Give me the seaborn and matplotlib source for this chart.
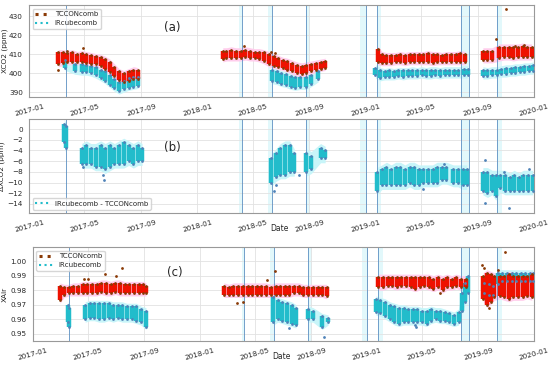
import matplotlib
matplotlib.use("Agg")
import matplotlib.pyplot as plt
import matplotlib.dates as mdates
from matplotlib.lines import Line2D
import pandas as pd
import seaborn as sns

# (date, low, high) of each ~10-day cluster of soundings
a_tccon = [
    ("2017-03-05", 405, 411), ("2017-03-15", 405.5, 411), ("2017-03-25", 406, 410.5),
    ("2017-04-05", 406, 411), ("2017-04-15", 406, 410), ("2017-04-25", 406, 410.5),
    ("2017-05-05", 405.5, 410), ("2017-05-15", 405, 409.5), ("2017-05-25", 405, 409),
    ("2017-06-05", 404, 408.5), ("2017-06-15", 402.5, 407.5), ("2017-06-25", 400.5, 406),
    ("2017-07-05", 398.5, 403.5), ("2017-07-15", 396.5, 401), ("2017-07-25", 395.5, 400),
    ("2017-08-05", 396, 401), ("2017-08-15", 397, 402), ("2017-08-25", 397, 401.5),
    ("2018-02-25", 407.5, 412), ("2018-03-05", 408, 412), ("2018-03-15", 408, 412.5),
    ("2018-03-25", 408, 412), ("2018-04-05", 408, 412), ("2018-04-15", 408.5, 412.5),
    ("2018-04-25", 408, 412), ("2018-05-05", 408, 411.5), ("2018-05-15", 407.5, 411.5),
    ("2018-05-25", 406.5, 411), ("2018-06-05", 405, 410), ("2018-06-15", 404, 409),
    ("2018-06-25", 403.5, 408), ("2018-07-05", 403, 407), ("2018-07-15", 402, 406.5),
    ("2018-07-25", 401, 405.5), ("2018-08-05", 400, 404.5), ("2018-08-15", 399.5, 404),
    ("2018-08-25", 400, 404.5), ("2018-09-05", 401, 405), ("2018-09-15", 402, 405.5),
    ("2018-09-25", 402.5, 406), ("2018-10-05", 403, 406.5),
    ("2019-01-27", 406, 413), ("2019-02-05", 405.5, 410), ("2019-02-15", 405.5, 409.5),
    ("2019-02-25", 405.5, 409.5), ("2019-03-07", 406, 409.5), ("2019-03-17", 406, 410),
    ("2019-03-27", 405.5, 409.5), ("2019-04-06", 406, 410), ("2019-04-16", 406, 410),
    ("2019-04-26", 406, 410), ("2019-05-06", 406, 410), ("2019-05-16", 406, 410.5),
    ("2019-05-26", 405.5, 410), ("2019-06-05", 406, 410), ("2019-06-15", 406, 409.5),
    ("2019-06-25", 406, 410), ("2019-07-05", 406, 410), ("2019-07-15", 406, 410),
    ("2019-07-25", 406, 410.5), ("2019-08-05", 406, 410),
    ("2019-09-12", 407, 412), ("2019-09-22", 407, 412), ("2019-10-02", 407, 412),
    ("2019-10-18", 408, 414), ("2019-10-28", 408.5, 414), ("2019-11-07", 408.5, 414),
    ("2019-11-17", 408, 414), ("2019-11-27", 408.5, 414), ("2019-12-07", 408.5, 414.5),
    ("2019-12-17", 408.5, 414), ("2019-12-27", 408.5, 414),
]
a_tccon_out = [
    ("2017-03-05", 401.5), ("2017-03-25", 412), ("2017-04-28", 413.5), ("2018-04-12", 414.5),
    ("2018-06-10", 411.5), ("2018-06-18", 410.5), ("2019-10-10", 418), ("2019-11-02", 434),
    ("2019-11-20", 414.5), ("2019-12-10", 415),
]
a_ircube = [
    ("2017-03-20", 403, 407), ("2017-04-10", 401, 405), ("2017-04-25", 400.5, 405),
    ("2017-05-05", 400.5, 404.5), ("2017-05-15", 400, 404), ("2017-05-25", 399, 403.5),
    ("2017-06-05", 397.5, 402), ("2017-06-15", 396, 401), ("2017-06-25", 394, 399),
    ("2017-07-05", 392, 397), ("2017-07-15", 390.5, 395.5), ("2017-07-25", 391.5, 396),
    ("2017-08-05", 392.5, 397.5), ("2017-08-15", 393, 398), ("2017-08-25", 393.5, 398),
    ("2018-06-12", 396, 402), ("2018-06-22", 395.5, 401), ("2018-07-02", 394.5, 400),
    ("2018-07-12", 394, 399.5), ("2018-07-22", 393, 398.5), ("2018-08-01", 392.5, 398),
    ("2018-08-12", 393, 398), ("2018-08-25", 393, 398), ("2018-09-05", 394.5, 399),
    ("2018-09-20", 397, 401),
    ("2019-01-22", 399, 403), ("2019-02-01", 397.5, 401.5), ("2019-02-11", 398, 401),
    ("2019-02-21", 398, 401.5), ("2019-03-03", 398, 401), ("2019-03-13", 398.5, 401.5),
    ("2019-03-23", 398, 401.5), ("2019-04-02", 398.5, 401.5), ("2019-04-12", 398.5, 402),
    ("2019-04-22", 398.5, 401.5), ("2019-05-02", 399, 402), ("2019-05-12", 398.5, 401.5),
    ("2019-05-22", 398.5, 402), ("2019-06-01", 399, 402), ("2019-06-11", 398.5, 401.5),
    ("2019-06-21", 399, 402), ("2019-07-01", 399, 402), ("2019-07-11", 399, 402),
    ("2019-07-21", 399, 402), ("2019-08-01", 399, 402.5), ("2019-08-10", 399, 402.5),
    ("2019-09-12", 398.5, 402), ("2019-09-22", 398.5, 401.5), ("2019-10-02", 399, 402),
    ("2019-10-12", 399, 402), ("2019-10-22", 399.5, 402.5), ("2019-11-01", 399.5, 403),
    ("2019-11-11", 400, 403), ("2019-11-21", 400, 403.5), ("2019-12-01", 400.5, 403.5),
    ("2019-12-11", 400.5, 404), ("2019-12-21", 401, 404), ("2019-12-30", 401, 404.5),
]

b_diff = [
    ("2017-03-18", -2.5, 1), ("2017-03-21", -3.5, 0.5),
    ("2017-04-25", -6.5, -3.5), ("2017-05-05", -6.5, -3), ("2017-05-15", -6.5, -3.5),
    ("2017-05-25", -7, -3.5), ("2017-06-05", -7, -3), ("2017-06-15", -7.5, -3.5),
    ("2017-06-25", -7, -3), ("2017-07-05", -6.5, -3.5), ("2017-07-15", -6.5, -3),
    ("2017-07-25", -6.5, -2.5), ("2017-08-05", -6, -3), ("2017-08-15", -6.5, -3.5),
    ("2017-08-25", -6, -3), ("2017-09-03", -6, -3.5),
    ("2018-06-10", -10, -5.5), ("2018-06-20", -9, -4.5), ("2018-06-30", -8.5, -3.5),
    ("2018-07-10", -8.5, -3), ("2018-07-20", -8, -3), ("2018-07-30", -8, -4.5),
    ("2018-08-25", -8, -4.5), ("2018-09-05", -7.5, -5), ("2018-09-25", -5.5, -3.5),
    ("2018-10-05", -5.5, -4),
    ("2019-01-25", -11.5, -8), ("2019-02-05", -10.5, -7.5), ("2019-02-15", -10.5, -7),
    ("2019-02-25", -10.5, -7.5), ("2019-03-07", -10.5, -7), ("2019-03-17", -10.5, -7),
    ("2019-03-27", -10.5, -7.5), ("2019-04-06", -10, -7), ("2019-04-16", -10.5, -7),
    ("2019-04-26", -10.5, -7.5), ("2019-05-06", -10, -7.5), ("2019-05-16", -10, -7.5),
    ("2019-05-26", -10, -7.5), ("2019-06-05", -10, -7), ("2019-06-15", -9.5, -7),
    ("2019-06-25", -9.5, -7), ("2019-07-10", -10, -7.5), ("2019-07-20", -10, -7.5),
    ("2019-07-30", -10.5, -7.5), ("2019-08-08", -10.5, -7.5),
    ("2019-09-12", -11.5, -8), ("2019-09-22", -12, -8), ("2019-10-02", -11.5, -8.5),
    ("2019-10-10", -12.5, -8.5), ("2019-10-20", -11, -8.5), ("2019-10-30", -11.5, -8.5),
    ("2019-11-09", -11.5, -9), ("2019-11-19", -11.5, -8.5), ("2019-11-29", -11.5, -9),
    ("2019-12-09", -11.5, -8.5), ("2019-12-19", -11.5, -8.5), ("2019-12-29", -11.5, -8.5),
]
b_diff_out = [
    ("2017-04-28", -7), ("2017-06-10", -8.5), ("2017-06-12", -9.6), ("2018-06-15", -11.5),
    ("2018-06-20", -10.5), ("2018-08-10", -8.5), ("2019-05-05", -11.3), ("2019-06-20", -6.5),
    ("2019-09-16", -5.8), ("2019-09-16", -13.8), ("2019-10-28", -8), ("2019-11-08", -14.8),
    ("2019-12-22", -7.5),
]

c_tccon = [
    ("2017-03-01", 0.973, 0.983), ("2017-03-10", 0.977, 0.982), ("2017-03-20", 0.978, 0.982),
    ("2017-03-30", 0.978, 0.983), ("2017-04-10", 0.978, 0.983), ("2017-04-20", 0.978, 0.984),
    ("2017-04-30", 0.978, 0.984), ("2017-05-10", 0.978, 0.984), ("2017-05-20", 0.978, 0.984),
    ("2017-05-30", 0.979, 0.985), ("2017-06-10", 0.978, 0.985), ("2017-06-20", 0.978, 0.984),
    ("2017-06-30", 0.979, 0.985), ("2017-07-10", 0.978, 0.985), ("2017-07-20", 0.978, 0.984),
    ("2017-07-30", 0.978, 0.984), ("2017-08-10", 0.978, 0.984), ("2017-08-20", 0.978, 0.984),
    ("2017-08-30", 0.978, 0.984), ("2017-09-05", 0.978, 0.983),
    ("2018-02-22", 0.977, 0.983), ("2018-03-05", 0.977, 0.982), ("2018-03-15", 0.977, 0.983),
    ("2018-03-25", 0.977, 0.983), ("2018-04-05", 0.977, 0.983), ("2018-04-15", 0.977, 0.983),
    ("2018-04-25", 0.977, 0.983), ("2018-05-05", 0.977, 0.983), ("2018-05-15", 0.977, 0.983),
    ("2018-05-25", 0.977, 0.983), ("2018-06-05", 0.977, 0.982), ("2018-06-15", 0.977, 0.983),
    ("2018-06-25", 0.977, 0.983), ("2018-07-05", 0.977, 0.983), ("2018-07-15", 0.977, 0.983),
    ("2018-07-25", 0.978, 0.983), ("2018-08-05", 0.978, 0.983), ("2018-08-15", 0.977, 0.982),
    ("2018-08-25", 0.977, 0.982), ("2018-09-05", 0.977, 0.982), ("2018-09-15", 0.977, 0.982),
    ("2018-09-25", 0.977, 0.982), ("2018-10-05", 0.976, 0.982),
    ("2019-01-25", 0.982, 0.989), ("2019-02-05", 0.982, 0.989), ("2019-02-15", 0.983, 0.989),
    ("2019-02-25", 0.983, 0.989), ("2019-03-07", 0.982, 0.989), ("2019-03-17", 0.983, 0.989),
    ("2019-03-27", 0.983, 0.989), ("2019-04-06", 0.982, 0.989), ("2019-04-16", 0.981, 0.989),
    ("2019-04-26", 0.982, 0.989), ("2019-05-06", 0.983, 0.989), ("2019-05-16", 0.982, 0.989),
    ("2019-05-26", 0.981, 0.988), ("2019-06-05", 0.982, 0.989), ("2019-06-15", 0.980, 0.988),
    ("2019-06-25", 0.982, 0.989), ("2019-07-05", 0.982, 0.988), ("2019-07-15", 0.983, 0.989),
    ("2019-07-25", 0.982, 0.988), ("2019-08-05", 0.982, 0.988),
    ("2019-09-12", 0.974, 0.990), ("2019-09-20", 0.970, 0.992), ("2019-09-28", 0.972, 0.991),
    ("2019-10-06", 0.975, 0.990), ("2019-10-18", 0.976, 0.990), ("2019-10-28", 0.975, 0.990),
    ("2019-11-07", 0.974, 0.991), ("2019-11-17", 0.975, 0.990), ("2019-11-27", 0.975, 0.990),
    ("2019-12-07", 0.975, 0.990), ("2019-12-17", 0.976, 0.990), ("2019-12-27", 0.975, 0.991),
]
c_tccon_out = [
    ("2017-04-22", 0.988), ("2017-05-02", 0.988), ("2017-06-08", 0.991), ("2017-07-01", 0.990),
    ("2017-07-15", 0.995), ("2018-03-22", 0.971), ("2018-04-05", 0.972), ("2018-05-28", 0.987),
    ("2018-06-14", 0.993), ("2019-06-10", 0.978), ("2019-09-10", 0.997), ("2019-09-14", 0.995),
    ("2019-09-25", 0.968), ("2019-10-15", 0.994), ("2019-10-29", 1.006),
]
c_ircube = [
    ("2017-03-18", 0.958, 0.970), ("2017-03-21", 0.955, 0.968),
    ("2017-04-25", 0.960, 0.970), ("2017-05-05", 0.961, 0.971), ("2017-05-15", 0.961, 0.971),
    ("2017-05-25", 0.960, 0.971), ("2017-06-05", 0.960, 0.971), ("2017-06-15", 0.961, 0.971),
    ("2017-06-25", 0.960, 0.970), ("2017-07-05", 0.961, 0.970), ("2017-07-15", 0.960, 0.970),
    ("2017-07-25", 0.960, 0.969), ("2017-08-05", 0.960, 0.969), ("2017-08-15", 0.959, 0.969),
    ("2017-08-25", 0.958, 0.967), ("2017-09-05", 0.955, 0.966),
    ("2018-06-10", 0.958, 0.975), ("2018-06-20", 0.960, 0.973), ("2018-06-30", 0.959, 0.972),
    ("2018-07-10", 0.958, 0.971), ("2018-07-20", 0.957, 0.970), ("2018-07-30", 0.956, 0.968),
    ("2018-08-25", 0.960, 0.967), ("2018-09-05", 0.960, 0.966), ("2018-09-25", 0.955, 0.962),
    ("2018-10-08", 0.958, 0.961),
    ("2019-01-20", 0.965, 0.974), ("2019-01-30", 0.964, 0.973), ("2019-02-10", 0.962, 0.972),
    ("2019-02-20", 0.960, 0.970), ("2019-03-02", 0.958, 0.969), ("2019-03-12", 0.957, 0.968),
    ("2019-03-22", 0.958, 0.968), ("2019-04-01", 0.958, 0.967), ("2019-04-11", 0.958, 0.967),
    ("2019-04-21", 0.958, 0.967), ("2019-05-01", 0.958, 0.966), ("2019-05-11", 0.957, 0.966),
    ("2019-05-21", 0.959, 0.967), ("2019-05-31", 0.960, 0.966), ("2019-06-10", 0.959, 0.966),
    ("2019-06-20", 0.959, 0.965), ("2019-06-30", 0.958, 0.964), ("2019-07-10", 0.957, 0.963),
    ("2019-07-20", 0.958, 0.965), ("2019-07-27", 0.966, 0.978), ("2019-08-03", 0.972, 0.985),
    ("2019-08-10", 0.978, 0.990),
    ("2019-09-14", 0.978, 0.985), ("2019-09-24", 0.977, 0.984), ("2019-10-04", 0.977, 0.983),
    ("2019-10-14", 0.984, 0.992), ("2019-10-24", 0.986, 0.992), ("2019-11-03", 0.986, 0.992),
    ("2019-11-13", 0.986, 0.992), ("2019-11-23", 0.986, 0.992), ("2019-12-03", 0.986, 0.992),
    ("2019-12-13", 0.986, 0.992), ("2019-12-23", 0.986, 0.992), ("2019-12-30", 0.986, 0.992),
]
c_ircube_out = [("2018-07-15", 0.954), ("2018-09-28", 0.948), ("2019-04-15", 0.956), ("2019-04-18", 0.955)]

# instrument events (vertical lines) and shaded periods next to them
event_dates = ["2017-03-21", "2018-04-08", "2018-06-11", "2018-08-25", "2019-01-01",
               "2019-01-26", "2019-07-26", "2019-08-12", "2019-10-12"]
shaded_periods = [("2018-04-02", "2018-04-08"), ("2018-06-02", "2018-06-11"),
                  ("2018-08-25", "2018-09-02"), ("2018-12-20", "2019-01-01"),
                  ("2019-01-26", "2019-02-04"), ("2019-07-26", "2019-08-12"),
                  ("2019-10-12", "2019-10-24")]

RED, BROWN, PINK = "#ee1100", "#8a3a06", "#ffcdec"
CYAN, BLUE, LCYAN = "#22bccb", "#4f83b8", "#c8f5f9"


def to_frame(rows):
    df = pd.DataFrame(rows, columns=["date", "lo", "hi"])
    df["date"] = pd.to_datetime(df["date"])
    df["seg"] = (df["date"].diff().dt.days > 25).cumsum()
    return df


def draw_series(ax, rows, outliers, line_color, dot_color, halo_color, pad, lw=3.2):
    df = to_frame(rows)
    for _, seg in df.groupby("seg"):
        ax.fill_between(seg["date"], seg["lo"] - pad, seg["hi"] + pad, color=halo_color,
                        lw=0, zorder=1)
    ax.vlines(df["date"], df["lo"], df["hi"], colors=line_color, lw=lw, zorder=3)
    ends = pd.concat([df[["date", "lo"]].rename(columns={"lo": "v"}),
                      df[["date", "hi"]].rename(columns={"hi": "v"})])
    if outliers:
        out = pd.DataFrame(outliers, columns=["date", "v"])
        out["date"] = pd.to_datetime(out["date"])
        ends = pd.concat([ends, out])
    sns.scatterplot(data=ends, x="date", y="v", ax=ax, color=dot_color, s=4,
                    linewidth=0, zorder=4, legend=False)


def decorate(ax, ylabel, tag, tag_y, label_x, xlabel=True):
    for d in event_dates:
        ax.axvline(pd.Timestamp(d), color="#5b8fc2", lw=0.6, zorder=2)
    for s, e in shaded_periods:
        ax.axvspan(pd.Timestamp(s), pd.Timestamp(e), color="#e2f8fb", lw=0, zorder=0)
    ax.set_xlim(pd.Timestamp("2017-01-01"), pd.Timestamp("2020-01-01"))
    ax.xaxis.set_major_locator(mdates.MonthLocator(bymonth=[1, 5, 9]))
    ax.xaxis.set_major_formatter(mdates.DateFormatter("%Y-%m"))
    ax.tick_params(axis="x", labelsize=5.2, rotation=15, pad=1)
    ax.tick_params(axis="y", labelsize=5.2, pad=1)
    ax.set_ylabel(ylabel, fontsize=5.3)
    ax.yaxis.set_label_coords(label_x, 0.5)
    if xlabel:
        ax.set_xlabel("Date", fontsize=5.5, ha="left")
        ax.xaxis.set_label_coords(0.477, -0.12)
    else:
        ax.set_xlabel("")
    ax.text(0.283, tag_y, tag, transform=ax.transAxes, fontsize=8.5, ha="center", va="center")
    for sp in ax.spines.values():
        sp.set_color("#999999")
        sp.set_linewidth(0.8)
    ax.grid(color="#e2e2e2", lw=0.6)


sns.set_style("whitegrid")
fig = plt.figure(figsize=(5.5, 3.66), dpi=100)
ax_a = fig.add_axes([0.053, 0.735, 0.918, 0.251])
ax_b = fig.add_axes([0.053, 0.418, 0.918, 0.257])
ax_c = fig.add_axes([0.060, 0.068, 0.911, 0.257])

tccon_handle = Line2D([], [], color=BROWN, ls=":", lw=2.2)
ircube_handle = Line2D([], [], color=CYAN, ls=":", lw=1.5)

# (a) XCO2
draw_series(ax_a, a_ircube, [], CYAN, BLUE, LCYAN, 1.5)
draw_series(ax_a, a_tccon, a_tccon_out, RED, BROWN, PINK, 1.5)
ax_a.set_ylim(387.5, 436)
ax_a.set_yticks([390, 400, 410, 420, 430])
decorate(ax_a, "XCO2 (ppm)", "(a)", 0.76, -0.042, xlabel=False)
ax_a.legend([tccon_handle, ircube_handle], ["TCCONcomb", "IRcubecomb"], loc="upper left",
            fontsize=5, frameon=True, handlelength=2, borderpad=0.4, labelspacing=0.4)

# (b) difference
draw_series(ax_b, b_diff, b_diff_out, CYAN, BLUE, LCYAN, 0.8)
ax_b.set_ylim(-15.7, 1.9)
ax_b.set_yticks(range(-14, 1, 2))
decorate(ax_b, "ΔXCO2 (ppm)", "(b)", 0.70, -0.047)
ax_b.legend([ircube_handle], ["IRcubecomb - TCCONcomb"], loc="lower left", fontsize=5,
            frameon=True, handlelength=2, borderpad=0.4)

# (c) XAir
draw_series(ax_c, c_ircube, c_ircube_out, CYAN, BLUE, LCYAN, 0.002)
draw_series(ax_c, c_tccon, c_tccon_out, RED, BROWN, PINK, 0.002)
ax_c.set_ylim(0.945, 1.0096)
ax_c.set_yticks([0.95, 0.96, 0.97, 0.98, 0.99, 1.00])
decorate(ax_c, "XAir", "(c)", 0.73, -0.05)
ax_c.legend([tccon_handle, ircube_handle], ["TCCONcomb", "IRcubecomb"], loc="upper left",
            fontsize=5, frameon=True, handlelength=2, borderpad=0.4, labelspacing=0.4)

fig.savefig("out.png", dpi=100)
